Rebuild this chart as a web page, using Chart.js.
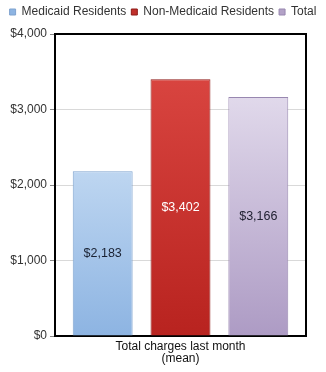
<!DOCTYPE html>
<html>
<head>
<meta charset="utf-8">
<script src="https://cdn.jsdelivr.net/npm/chart.js@4/dist/chart.umd.min.js"></script>
<style>
html,body{margin:0;padding:0;background:#fff;}
#wrap{width:326px;height:372px;}
</style>
</head>
<body>
<div id="wrap"><canvas id="c" width="326" height="372"></canvas></div>
<script>
const categories = [['Total charges last month', '(mean)']];
const seriesNames = ['Medicaid Residents', 'Non-Medicaid Residents', 'Total'];
const medicaid = [2183];
const nonMedicaid = [3402];
const total = [3166];
const yTicks = [0, 1000, 2000, 3000, 4000];

const fmt = v => '$' + v.toLocaleString('en-US');
const FONT = '"Liberation Sans", Arial, sans-serif';

function grad(ctx, area, top, bottom) {
  if (!area) return top;
  const g = ctx.createLinearGradient(0, area.top, 0, area.bottom);
  g.addColorStop(0, top);
  g.addColorStop(1, bottom);
  return g;
}
const palette = [
  ['#e6f2fd', '#8db4e2', '#7fa3cf', '#8db4e2'],
  ['#de4a45', '#b8231f', '#8e1a17', '#c0302b'],
  ['#eee9f5', '#ad9bc4', '#9887b0', '#b3a2c7']
];

const legendSpace = {
  id: 'legendSpace',
  afterInit(chart) {
    const l = chart.legend;
    if (!l) return;
    const f = l.fit.bind(l);
    l.fit = function () { f(); this.height += 6; };
  }
};
const frame = {
  id: 'frame',
  afterDraw(chart) {
    const {ctx, chartArea: a} = chart;
    ctx.save();
    ctx.strokeStyle = '#000';
    ctx.lineWidth = 2;
    ctx.beginPath();
    ctx.moveTo(a.left, a.top);
    ctx.lineTo(a.right, a.top);
    ctx.lineTo(a.right, a.bottom);
    ctx.stroke();
    ctx.restore();
  }
};
const valueLabels = {
  id: 'valueLabels',
  afterDatasetsDraw(chart) {
    const {ctx} = chart;
    const colors = ['#1a2233', '#ffffff', '#222233'];
    ctx.save();
    ctx.font = '12.5px ' + FONT;
    ctx.textAlign = 'center';
    ctx.textBaseline = 'middle';
    chart.data.datasets.forEach((ds, i) => {
      const meta = chart.getDatasetMeta(i);
      meta.data.forEach((bar, j) => {
        ctx.fillStyle = colors[i];
        ctx.fillText(fmt(ds.data[j]), bar.x, (bar.y + bar.base) / 2);
      });
    });
    ctx.restore();
  }
};

const datasets = [medicaid, nonMedicaid, total].map((d, i) => ({
  label: seriesNames[i],
  data: d,
  backgroundColor: c => grad(c.chart.ctx, c.chart.chartArea, palette[i][0], palette[i][1]),
  borderColor: palette[i][2],
  borderWidth: 1,
  categoryPercentage: 0.93,
  barPercentage: 0.77
}));

new Chart(document.getElementById('c'), {
  type: 'bar',
  data: { labels: categories, datasets },
  plugins: [legendSpace, frame, valueLabels],
  options: {
    responsive: false,
    animation: false,
    devicePixelRatio: 1,
    layout: { padding: { left: 0, right: 0, top: 1, bottom: 2 } },
    plugins: {
      legend: {
        position: 'top',
        labels: {
          boxWidth: 6, boxHeight: 6,
          padding: 5,
          color: '#333',
          font: { family: FONT, size: 12 },
          generateLabels: chart => chart.data.datasets.map((ds, i) => ({
            text: ds.label, fillStyle: palette[i][3], strokeStyle: palette[i][2],
            lineWidth: 1, datasetIndex: i, hidden: false, fontColor: '#333'
          }))
        }
      },
      tooltip: { enabled: false }
    },
    scales: {
      x: {
        grid: { display: false, drawTicks: false },
        border: { color: '#000', width: 2 },
        ticks: { color: '#111', font: { family: FONT, size: 12, lineHeight: 1.0 }, padding: 5 }
      },
      y: {
        min: 0, max: 4000,
        afterBuildTicks: ax => { ax.ticks = yTicks.map(v => ({ value: v })); },
        afterFit: ax => { ax.width = 55; },
        grid: { color: '#d9d9d9', tickColor: '#888', tickLength: 5, drawTicks: true },
        border: { color: '#000', width: 2 },
        ticks: {
          color: '#333',
          padding: 3,
          font: { family: FONT, size: 12 },
          callback: v => fmt(v)
        }
      },
      yR: {
        position: 'right',
        min: 0, max: 4000,
        afterFit: ax => { ax.width = 20; },
        grid: { display: false, drawOnChartArea: false },
        border: { display: false },
        ticks: { display: false }
      }
    }
  }
});
</script>
</body>
</html>
